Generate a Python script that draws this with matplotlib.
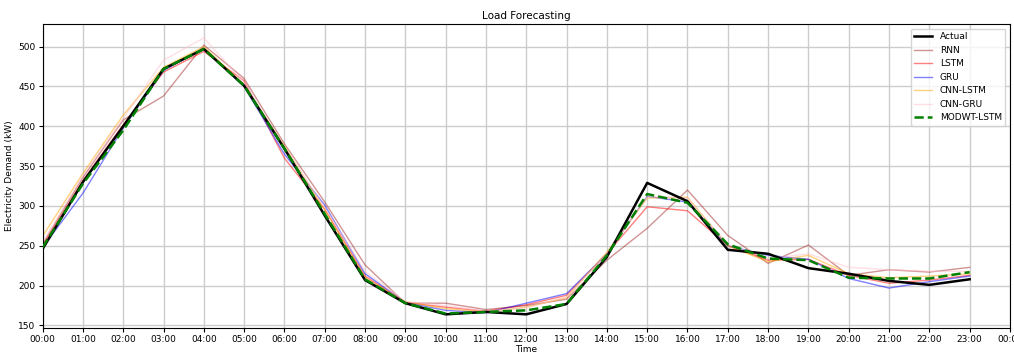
import matplotlib
matplotlib.use("Agg")
import matplotlib.pyplot as plt

hours = list(range(24))
hour_labels = [f"{h % 24:02d}:00" for h in range(25)]

actual     = [246, 330, 400, 472, 497, 451, 372, 288, 207, 178, 164, 167, 164, 177, 236, 329, 306, 245, 240, 222, 215, 206, 201, 208]
rnn        = [252, 336, 408, 438, 502, 460, 378, 305, 226, 178, 178, 170, 175, 183, 232, 272, 320, 263, 228, 251, 213, 220, 217, 223]
lstm       = [250, 332, 402, 468, 494, 457, 360, 296, 212, 179, 173, 168, 176, 188, 240, 299, 294, 250, 232, 233, 213, 203, 207, 213]
gru        = [248, 316, 398, 470, 498, 450, 365, 301, 215, 179, 169, 166, 178, 190, 240, 312, 305, 250, 238, 233, 209, 197, 205, 212]
cnn_lstm   = [262, 341, 414, 474, 500, 452, 375, 295, 210, 180, 171, 167, 173, 185, 242, 310, 311, 250, 230, 238, 215, 210, 212, 215]
cnn_gru    = [255, 338, 410, 483, 511, 455, 374, 298, 218, 180, 175, 168, 172, 186, 240, 312, 310, 252, 234, 240, 223, 220, 218, 218]
modwt_lstm = [248, 328, 395, 472, 497, 451, 372, 290, 208, 178, 165, 167, 169, 177, 238, 315, 304, 252, 234, 232, 210, 209, 209, 217]

fig = plt.figure(figsize=(10.14, 3.54), dpi=100)
ax = fig.add_axes([0.042, 0.073, 0.954, 0.859])

ax.plot(hours, actual, color="black", lw=1.8, label="Actual", zorder=5)
ax.plot(hours, rnn, color="brown", alpha=0.5, lw=1, label="RNN")
ax.plot(hours, lstm, color="red", alpha=0.5, lw=1, label="LSTM")
ax.plot(hours, gru, color="blue", alpha=0.5, lw=1, label="GRU")
ax.plot(hours, cnn_lstm, color="orange", alpha=0.5, lw=1, label="CNN-LSTM")
ax.plot(hours, cnn_gru, color="pink", alpha=0.5, lw=1, label="CNN-GRU")
ax.plot(hours, modwt_lstm, color="green", ls="--", lw=1.8, label="MODWT-LSTM", zorder=6)

ax.set_xlim(0, 24)
ax.set_xticks(range(25))
ax.set_xticklabels(hour_labels)
ax.tick_params(labelsize=6.5, pad=2, length=3)
ax.set_xlabel("Time", fontsize=6.5, labelpad=1)
ax.set_ylabel("Electricity Demand (kW)", fontsize=6.5, labelpad=3)
ax.set_title("Load Forecasting", fontsize=7.5, pad=4)
ax.grid(color="#cccccc", lw=1)
ax.legend(loc="upper right", fontsize=6.5)

fig.savefig("out.png", dpi=100)
